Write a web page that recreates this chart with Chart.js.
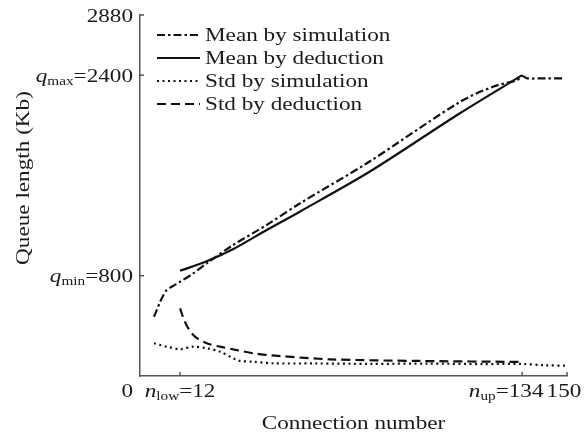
<!DOCTYPE html>
<html><head><meta charset="utf-8">
<script src="https://cdn.jsdelivr.net/npm/chart.js@4.4.1/dist/chart.umd.min.js"></script>
<style>html,body{margin:0;padding:0;background:#fff;}</style>
</head><body>
<canvas id="c" width="584" height="434"></canvas>
<script>
// ---- data ----
const seriesNames = ['Mean by simulation', 'Mean by deduction', 'Std by simulation', 'Std by deduction'];

const meanSimN = [2.7, 3.7, 4.9, 6.1, 7.2, 9.0, 12, 16.7, 21.5, 30.9, 42.9, 54.8, 78.6, 111.9, 123.6, 132.2, 134, 135.8, 142.2, 148.3];
const meanSimQ = [473, 527, 593, 646, 686, 712, 752, 819, 899, 1045, 1205, 1378, 1697, 2188, 2308, 2361, 2393, 2375, 2375, 2375];

const meanDedN = [12, 21.5, 31.0, 42.9, 54.7, 79.7, 111.8, 134];
const meanDedQ = [840, 915, 1013, 1165, 1311, 1631, 2096, 2400];

const stdSimN = [2.7, 7.2, 12, 16.7, 21.5, 26.3, 31, 33.4, 38.1, 45.3, 60, 80, 100, 120, 134, 142, 150];
const stdSimQ = [261, 234, 215, 234, 221, 194, 141, 120, 114, 101, 100, 97, 99, 95, 96, 86, 82];

const stdDedN = [12, 13.2, 14.9, 17.3, 21.5, 26.3, 32.2, 38.1, 42.9, 47, 65.5, 97.6, 134];
const stdDedQ = [540, 460, 381, 314, 261, 234, 207, 181, 168, 160, 133, 120, 112];

const yTickValues = [800, 2400, 2880];
const yTickLabels = [['q', 'min', '=800'], ['q', 'max', '=2400'], ['', '', '2880']];
const xTickValues = [12, 134, 150];
const xTickLabels = [['n', 'low', '=12'], ['n', 'up', '=134'], ['', '', '150']];
const originLabel = '0';
const xTitle = 'Connection number';
const yTitle = 'Queue length (Kb)';

// ---- styles ----
const dashes = [[8, 3, 2.5, 3], [], [2, 3.5], [9, 5]];
const xLabelShift = [0, -16, -3];
const S = 1.22;                       // horizontal glyph stretch
const FONT = '"Liberation Serif","Times New Roman",serif';
const TXT = '#1a1a1a';
const AX = '#555';

function pts(n, q) { return n.map((v, i) => ({ x: v, y: q[i] })); }
const seriesData = [pts(meanSimN, meanSimQ), pts(meanDedN, meanDedQ), pts(stdSimN, stdSimQ), pts(stdDedN, stdDedQ)];

function segs(l) {
  const out = [];
  if (l[0]) out.push({ t: l[0], f: 'italic 19px ' + FONT, dy: 0 });
  if (l[1]) out.push({ t: l[1], f: '12.5px ' + FONT, dy: 3 });
  out.push({ t: l[2], f: '19px ' + FONT, dy: 0 });
  return out;
}
function segWidth(ctx, ss) { let w = 0; for (const s of ss) { ctx.font = s.f; w += ctx.measureText(s.t).width * S; } return w; }
function drawSegs(ctx, ss, x, y) {
  let cx = x;
  for (const s of ss) {
    ctx.font = s.f;
    const w = ctx.measureText(s.t).width * S;
    ctx.save(); ctx.translate(cx, y + s.dy); ctx.scale(S, 1);
    ctx.textAlign = 'left'; ctx.textBaseline = 'alphabetic';
    ctx.fillText(s.t, 0, 0); ctx.restore();
    cx += w;
  }
}
function drawStretched(ctx, t, x, y, align, rot) {
  ctx.save(); ctx.translate(x, y); if (rot) ctx.rotate(rot); ctx.scale(S, 1);
  ctx.textAlign = align; ctx.textBaseline = 'alphabetic'; ctx.fillText(t, 0, 0); ctx.restore();
}

const decor = {
  id: 'decor',
  afterDraw(chart) {
    const ctx = chart.ctx, xs = chart.scales.x, ys = chart.scales.y, a = chart.chartArea;
    ctx.save();
    // inward tick marks
    ctx.strokeStyle = AX; ctx.lineWidth = 1.5; ctx.setLineDash([]);
    yTickValues.forEach(v => { const p = ys.getPixelForValue(v); ctx.beginPath(); ctx.moveTo(a.left, p); ctx.lineTo(a.left + 4, p); ctx.stroke(); });
    xTickValues.forEach(v => { const p = xs.getPixelForValue(v); ctx.beginPath(); ctx.moveTo(p, a.bottom); ctx.lineTo(p, a.bottom - 4); ctx.stroke(); });
    ctx.fillStyle = TXT;
    // y tick labels
    yTickValues.forEach((v, i) => {
      const ss = segs(yTickLabels[i]); const w = segWidth(ctx, ss);
      drawSegs(ctx, ss, a.left - 7 - w, ys.getPixelForValue(v) + 6.5);
    });
    // x tick labels
    const xb = a.bottom + 21;
    xTickValues.forEach((v, i) => {
      const ss = segs(xTickLabels[i]); const w = segWidth(ctx, ss);
      drawSegs(ctx, ss, xs.getPixelForValue(v) + xLabelShift[i] - w / 2, xb);
    });
    ctx.font = '19px ' + FONT;
    drawStretched(ctx, originLabel, a.left - 7, xb, 'right');
    // axis titles
    drawStretched(ctx, xTitle, (a.left + a.right) / 2, 429, 'center');
    drawStretched(ctx, yTitle, 29, 178, 'center', -Math.PI / 2);
    // legend
    chart.data.datasets.forEach((ds, i) => {
      const y = 35 + i * 23;
      ctx.strokeStyle = '#111'; ctx.lineWidth = 2.2; ctx.setLineDash(ds.borderDash || []);
      ctx.beginPath(); ctx.moveTo(157, y); ctx.lineTo(200, y); ctx.stroke();
      ctx.setLineDash([]);
      ctx.font = '19px ' + FONT; ctx.fillStyle = TXT;
      drawStretched(ctx, ds.label, 205, y + 5.5, 'left');
    });
    ctx.restore();
  }
};

new Chart(document.getElementById('c'), {
  type: 'line',
  data: {
    datasets: seriesNames.map((name, i) => ({
      label: name, data: seriesData[i], borderColor: '#111', borderWidth: 2.2,
      borderDash: dashes[i], pointRadius: 0, tension: 0.3, fill: false, borderCapStyle: 'butt'
    }))
  },
  options: {
    responsive: false, animation: false, devicePixelRatio: 1,
    layout: { padding: { top: 15, right: 17, left: 0, bottom: 0 } },
    scales: {
      x: { type: 'linear', min: -2.3, max: 150, ticks: { display: false }, grid: { display: false },
           border: { display: true, color: AX, width: 1.5 }, afterFit(s) { s.height = 58; } },
      y: { type: 'linear', min: 0, max: 2880, ticks: { display: false }, grid: { display: false },
           border: { display: true, color: AX, width: 1.5 }, afterFit(s) { s.width = 140; } }
    },
    plugins: { legend: { display: false }, tooltip: { enabled: false } }
  },
  plugins: [decor]
});
</script>
</body></html>
